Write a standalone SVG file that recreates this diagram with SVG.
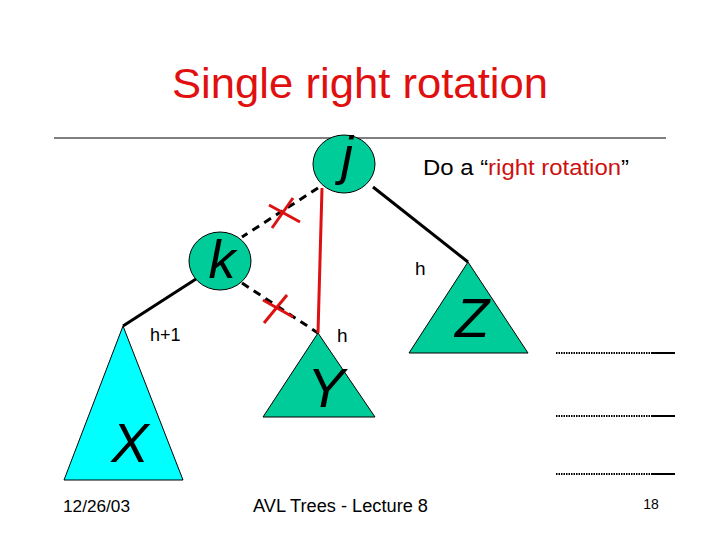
<svg xmlns="http://www.w3.org/2000/svg" width="720" height="540" viewBox="0 0 720 540">
<style>
text{font-family:"Liberation Sans",Arial,sans-serif;fill:#000}
.node{fill:#00CC99;stroke:#000;stroke-width:1}
.big{font-size:54px;font-style:italic}
.lab{font-size:18px}
.edge{stroke:#000;stroke-width:3;fill:none}
.dash{stroke:#000;stroke-width:3;stroke-dasharray:8,6;fill:none}
.red{stroke:#DD1111;stroke-width:3;fill:none}
.dot{stroke:#000;stroke-width:2;stroke-dasharray:1.5,1;fill:none}
</style>
<rect width="720" height="540" fill="#fff"/>
<text x="172" y="98" textLength="376" lengthAdjust="spacingAndGlyphs" style="font-size:42px;fill:#E01010">Single right rotation</text>
<line x1="54" y1="138" x2="666" y2="138" stroke="#000" stroke-width="1"/>
<g id="connectors">
<line class="edge" x1="373" y1="187" x2="468" y2="262"/>
<line class="edge" x1="196" y1="279" x2="123" y2="326"/>
<line class="dash" x1="318" y1="188" x2="242" y2="237"/>
<line class="dash" x1="242" y1="283" x2="318" y2="333"/>
<line class="red" x1="322" y1="188" x2="318" y2="333"/>
<line class="red" x1="269" y1="205" x2="300" y2="222"/>
<line class="red" x1="293" y1="198" x2="272" y2="228"/>
<line class="red" x1="263" y1="300" x2="293" y2="317"/>
<line class="red" x1="264" y1="323" x2="287" y2="295"/>
</g>
<g id="node-j">
<ellipse class="node" cx="344" cy="164" rx="31" ry="29"/>
<text class="big" x="347" y="174" text-anchor="middle">j</text>
</g>
<g id="node-k">
<ellipse class="node" cx="220" cy="261" rx="31" ry="29"/>
<text class="big" x="222" y="278" text-anchor="middle">k</text>
</g>
<g id="node-X">
<polygon points="123,326 64,480 183,480" fill="#00FFFF" stroke="#000" stroke-width="1"/>
<text class="big" x="130" y="462" text-anchor="middle" style="font-size:56px">X</text>
</g>
<g id="node-Y">
<polygon class="node" points="318,333 263,417 375,417"/>
<text class="big" x="326" y="407" text-anchor="middle" style="font-size:56px">Y</text>
</g>
<g id="node-Z">
<polygon class="node" points="468,262 409,353 528,353"/>
<text class="big" x="472" y="337" text-anchor="middle" style="font-size:56px">Z</text>
</g>
<text class="lab" x="150" y="341">h+1</text>
<text class="lab" x="337" y="342" style="font-size:19px">h</text>
<text class="lab" x="415" y="275" style="font-size:19px">h</text>
<text x="423" y="175" textLength="206" lengthAdjust="spacingAndGlyphs" style="font-size:22px">Do a “<tspan fill="#CC1111">right rotation</tspan>”</text>
<g id="levels">
<line class="dot" x1="556" y1="353" x2="652" y2="353"/>
<line x1="652" y1="353" x2="675" y2="353" stroke="#000" stroke-width="2"/>
<line class="dot" x1="556" y1="416" x2="652" y2="416"/>
<line x1="652" y1="416" x2="675" y2="416" stroke="#000" stroke-width="2"/>
<line class="dot" x1="556" y1="474" x2="652" y2="474"/>
<line x1="652" y1="474" x2="675" y2="474" stroke="#000" stroke-width="2"/>
</g>
<text x="63" y="512" textLength="67" lengthAdjust="spacingAndGlyphs" style="font-size:17px">12/26/03</text>
<text x="253" y="512" textLength="175" lengthAdjust="spacingAndGlyphs" style="font-size:18px">AVL Trees - Lecture 8</text>
<text x="651" y="509" text-anchor="middle" style="font-size:14px">18</text>
</svg>
